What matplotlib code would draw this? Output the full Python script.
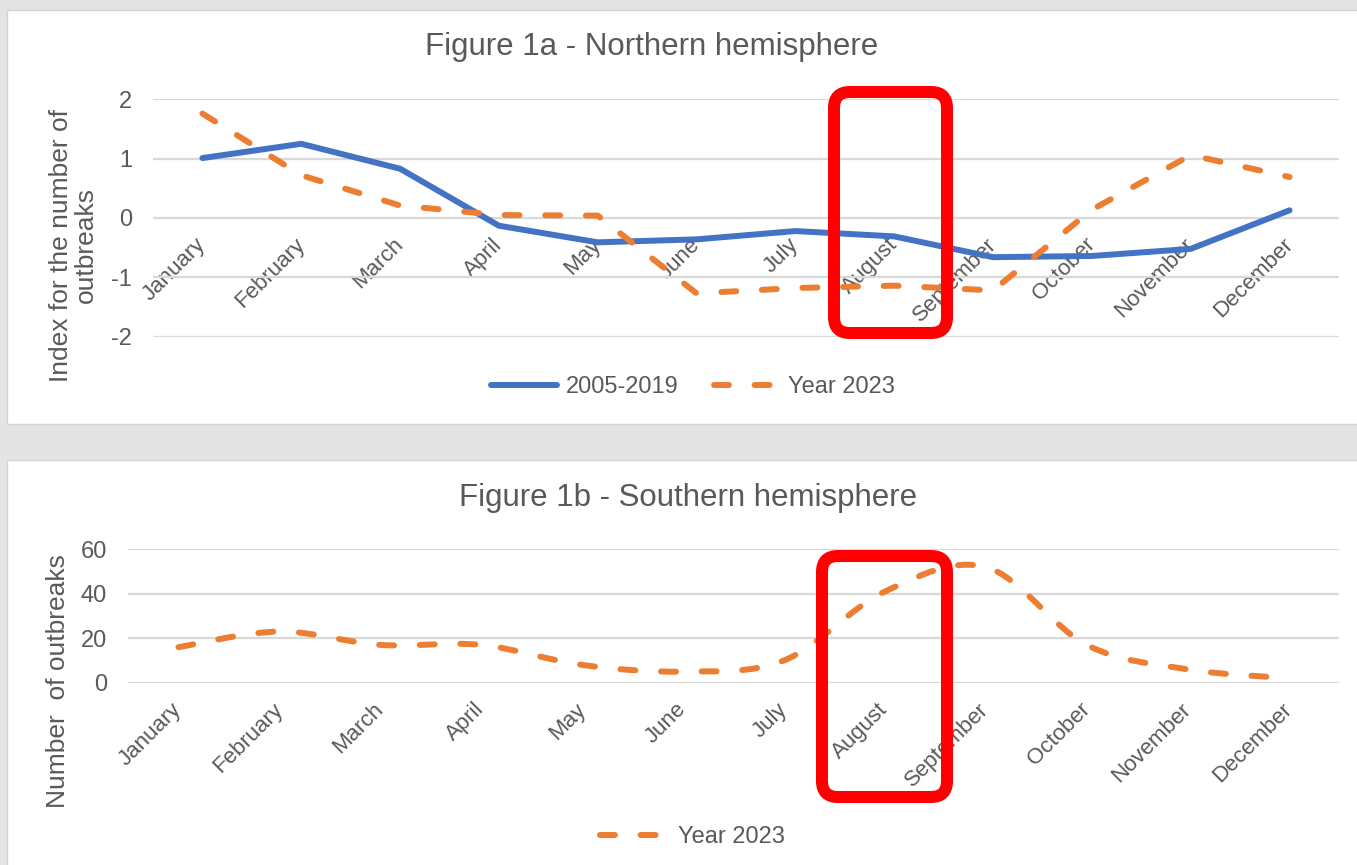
import matplotlib
matplotlib.use("Agg")
import matplotlib.pyplot as plt
from matplotlib.patches import Rectangle, FancyBboxPatch, PathPatch
from matplotlib.path import Path
from matplotlib.lines import Line2D
from matplotlib.transforms import IdentityTransform

plt.rcParams['font.family'] = ['Liberation Sans', 'DejaVu Sans']

months = ["January", "February", "March", "April", "May", "June", "July",
          "August", "September", "October", "November", "December"]

# Figure 1a - Northern hemisphere (index)
north_2005_2019 = [1.01, 1.25, 0.83, -0.13, -0.41, -0.36, -0.22, -0.31, -0.66, -0.64, -0.52, 0.13]
north_2023 = [1.76, 0.72, 0.21, 0.05, 0.04, -1.27, -1.18, -1.14, -1.22, 0.14, 1.06, 0.69]

# Figure 1b - Southern hemisphere (number of outbreaks)
south_2023 = [16, 23, 17, 17, 8, 5, 10, 41, 52, 17, 6, 2]

north_yticks = [-2, -1, 0, 1, 2]
south_yticks = [0, 20, 40, 60]

BLUE = "#4472C4"
ORANGE = "#ED7D31"
GRID = "#D9D9D9"
TXT = "#595959"
BG = "#E4E4E4"

W, H = 1357, 865
fig = plt.figure(figsize=(W / 100, H / 100), dpi=100)
fig.patch.set_facecolor(BG)


def fx(px):
    return px / W


def fy(py):
    return 1 - py / H


# white chart panels
for (x0, y0, x1, y1) in [(7, 10, 1362, 424), (7, 460, 1362, 870)]:
    fig.add_artist(Rectangle((fx(x0), fy(y1)), fx(x1 - x0), (y1 - y0) / H,
                             transform=fig.transFigure, facecolor="white",
                             edgecolor="#D4D4D4", linewidth=1.0, zorder=0))

DASH = (2.5, 4.3)
LW = 4.3
TICK_FS = 17
MONTH_FS = 16
LEG_FS = 17
TITLE_FS = 22.5
YLAB_FS = 19


def style_axes(ax, yticks):
    ax.set_facecolor("none")
    for s in ax.spines.values():
        s.set_visible(False)
    ax.set_yticks(yticks)
    ax.set_yticklabels([str(v) for v in yticks])
    ax.yaxis.grid(True, color=GRID, linewidth=1.6)
    ax.set_axisbelow(True)
    ax.tick_params(axis='y', length=0, pad=15, labelsize=TICK_FS, labelcolor=TXT)
    ax.set_xlim(-0.5, 11.5)
    ax.set_xticks(range(12))
    ax.set_xticklabels(months, rotation=45, ha='right', va='center',
                       rotation_mode='anchor', fontsize=MONTH_FS, color=TXT)
    ax.tick_params(axis='x', length=0, pad=17)


# ---------- top chart ----------
ax1 = fig.add_axes([fx(153), fy(336.7), fx(1339 - 153), (336.7 - 99.3) / H])
ax1.spines['bottom'].set_position(('data', 0))
ax1.set_ylim(-2, 2)
style_axes(ax1, north_yticks)
ax1.set_ylim(-2, 2)
x = list(range(12))
l1, = ax1.plot(x, north_2005_2019, color=BLUE, lw=LW, solid_capstyle='round',
               solid_joinstyle='round', label="2005-2019", zorder=3)
l2, = ax1.plot(x, north_2023, color=ORANGE, lw=LW, dashes=DASH,
               dash_capstyle='round', dash_joinstyle='round', label="Year 2023", zorder=3)

fig.text(fx(652), fy(47), "Figure 1a - Northern hemisphere", ha='center', va='center',
         fontsize=TITLE_FS, color=TXT)
fig.text(fx(73), fy(245), "Index for the number of\noutbreaks", ha='center', va='center',
         rotation=90, fontsize=YLAB_FS, color=TXT, multialignment='center', linespacing=1.05)
fig.legend(handles=[l1, l2], loc='center', bbox_to_anchor=(fx(693), fy(387)), ncol=2,
           frameon=False, fontsize=LEG_FS, labelcolor=TXT, handlelength=2.8,
           handletextpad=0.35, columnspacing=1.5)

# ---------- bottom chart ----------
ax2 = fig.add_axes([fx(128), fy(682.7), fx(1339 - 128), (682.7 - 549.3) / H])
style_axes(ax2, south_yticks)
ax2.set_ylim(0, 60)

# Excel-style smoothed line (cubic Bezier through the data points)
pts = list(zip(x, south_2023))
n = len(pts)
verts = [pts[0]]
codes = [Path.MOVETO]
for i in range(n - 1):
    p0 = pts[i - 1] if i > 0 else pts[i]
    p1 = pts[i]
    p2 = pts[i + 1]
    p3 = pts[i + 2] if i + 2 < n else pts[i + 1]
    c1 = (p1[0] + (p2[0] - p0[0]) / 6, p1[1] + (p2[1] - p0[1]) / 6)
    c2 = (p2[0] - (p3[0] - p1[0]) / 6, p2[1] - (p3[1] - p1[1]) / 6)
    verts += [c1, c2, p2]
    codes += [Path.CURVE4] * 3
smooth = PathPatch(Path(verts, codes), transform=ax2.transData, facecolor='none',
                   edgecolor=ORANGE, lw=LW, capstyle='round', joinstyle='round', zorder=3)
smooth.set_linestyle((0, DASH))
ax2.add_patch(smooth)

fig.text(fx(688), fy(498), "Figure 1b - Southern hemisphere", ha='center', va='center',
         fontsize=TITLE_FS, color=TXT)
fig.text(fx(58), fy(681), "Number  of outbreaks", ha='center', va='center',
         rotation=90, fontsize=YLAB_FS, color=TXT)
h3 = Line2D([], [], color=ORANGE, lw=LW, dashes=DASH, dash_capstyle='round')
fig.legend(handles=[h3], labels=["Year 2023"], loc='center',
           bbox_to_anchor=(fx(692), fy(837)), frameon=False, fontsize=LEG_FS,
           labelcolor=TXT, handlelength=2.8, handletextpad=0.5)

# ---------- red highlight boxes (annotation, pixel coordinates) ----------
for (x0, y0, x1, y1) in [(834, 92, 947, 333), (822, 556, 947, 797)]:
    fig.add_artist(FancyBboxPatch((x0, H - y1), x1 - x0, y1 - y0,
                                  boxstyle="round,pad=0,rounding_size=16",
                                  transform=IdentityTransform(), facecolor='none',
                                  edgecolor='#FF0000', linewidth=12 * 0.72, zorder=10))

fig.savefig("out.png", dpi=100, facecolor=BG)
